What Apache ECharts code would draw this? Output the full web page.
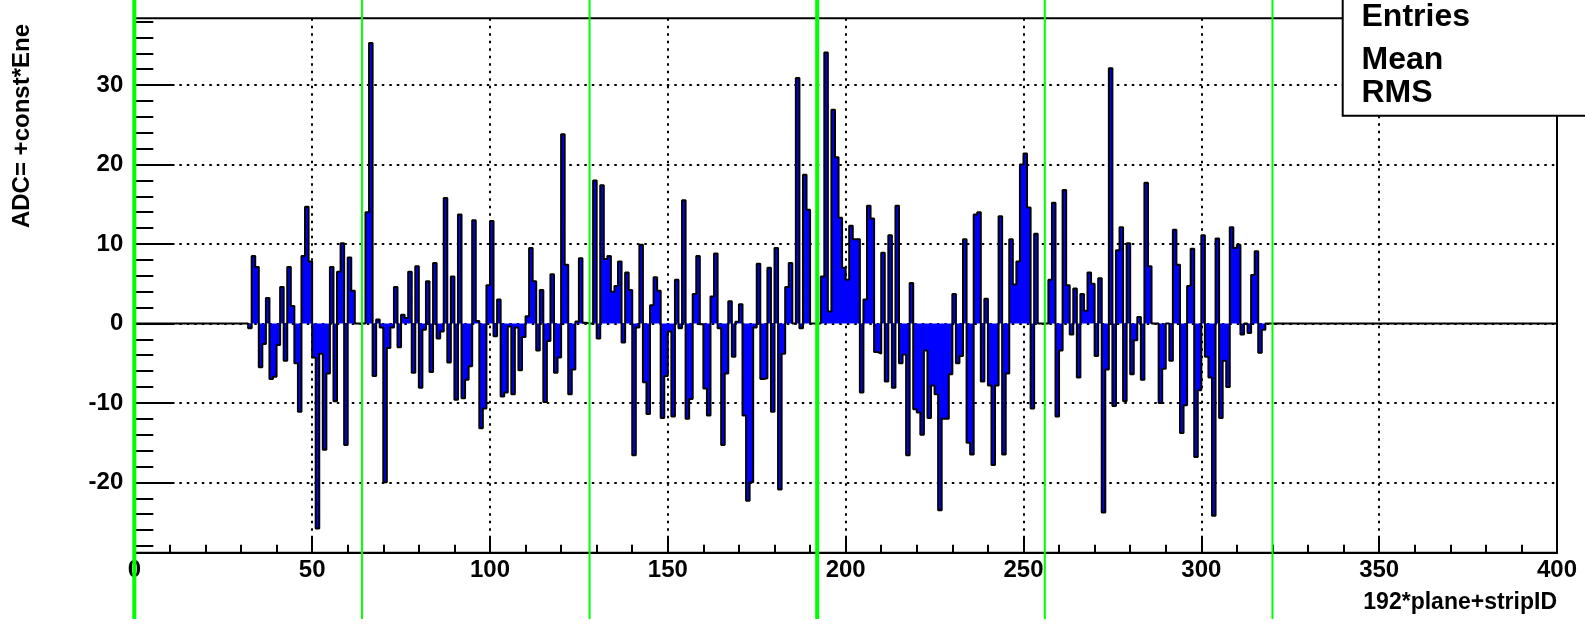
<!DOCTYPE html>
<html><head><meta charset="utf-8">
<script src="https://cdn.jsdelivr.net/npm/echarts@6/dist/echarts.min.js"></script>
<style>html,body{margin:0;padding:0;background:#fff}#c{width:1585px;height:629px}</style>
</head><body><div id="c"></div>
<script>
// ---- data ----
const binCount = 400;            // x axis: 0 .. 400, one bin per unit
const firstFilledBin = 32;       // bins before this are empty (0)
// bins 32..63
const chip0 = [-0.6, 8.5, 7.1, -5.5, -2.6, 3.2, -7.0, -6.7, -2.7, 4.6, -4.7, 7.1, 2.2, -5.0, -11.1, 8.5,
  14.7, 7.8, -4.3, -25.8, -3.8, -15.9, -6.3, 7.1, -9.8, 6.5, 10.1, -15.3, 8.3, 4.1, 0, 0];
// bins 64..127
const chip1 = [0, 14.0, 35.3, -6.6, 0.5, -0.5, -20.0, -3.1, -0.5, 4.6, -3.0, 1.1, 0.7, 6.5, -6.2, 7.2,
  -8.1, -0.8, 5.3, -6.1, 7.6, -1.9, -1.0, 15.8, -4.9, 5.9, -9.6, 13.7, -9.4, -7.1, -5.4, 13.0,
  0.3, -13.2, -10.7, 4.8, 12.9, -1.6, 3.0, -9.2, -8.7, -0.4, -8.9, -0.5, -5.9, -1.7, 0.9, 9.5,
  5.3, -3.4, 4.2, -9.9, -2.2, 6.2, -6.2, -4.3, 23.8, 7.4, -8.9, -5.8, 0.25, 8.2, 0.1, 0];
// bins 128..191
const chip2 = [0, 18.0, -1.9, 17.4, 8.1, 8.5, 4.0, 4.7, 7.8, -2.4, 6.4, 4.2, -16.6, -0.5, 9.9, -7.4,
  -11.4, 2.3, 5.8, 4.1, -11.9, -6.6, -1.0, -11.7, 5.5, -0.6, 15.5, -12.0, -9.5, 3.7, 8.5, -0.1,
  -8.2, -11.6, 3.4, 8.8, -0.6, -15.3, -6.3, 2.8, -4.2, 0.2, 2.4, -11.6, -22.3, -20.0, -0.5, 7.5,
  -7.0, -6.9, 7.0, -11.1, 9.5, -20.9, -3.8, 4.6, 7.6, 0, 30.9, -0.6, 18.7, 14.3, 0, 0];
// bins 192..255
const chip3 = [0, 5.9, 34.1, 1.5, 26.9, 20.9, 13.3, 7.0, 5.5, 12.3, 10.6, 10.6, -8.7, 3.0, 14.8, 13.2,
  -3.6, -3.8, 8.9, -7.3, 11.1, -8.1, 14.8, -5.0, -3.9, -16.6, 5.1, -10.8, -11.2, -14.0, -3.4, -11.9,
  -7.8, -8.9, -23.5, -12.0, -12.0, -6.4, 3.7, -5.0, -4.1, 10.6, -15.0, -16.5, 13.7, 14.0, -7.3, 3.1,
  -7.8, -17.8, -7.8, 13.5, -16.5, -6.3, 10.6, 4.9, 7.8, 20.0, 21.4, 14.6, -10.7, 11.3, 0, 0];
// bins 256..319
const chip4 = [0, 5.5, 15.2, -11.7, -3.4, 16.8, 4.8, -1.4, 4.4, -6.8, 3.7, 1.6, 6.4, 5.0, -4.1, 5.7,
  -23.8, -5.8, 32.1, -10.4, 9.2, 12.1, -9.8, 10.1, -6.4, -2.1, 0.8, -7.1, 17.7, 7.2, 0, 0,
  -10.0, -5.7, 0, -4.7, 11.8, 7.4, -13.8, -10.3, 4.7, 9.4, -16.8, -8.4, 11.1, -4.2, -6.8, -24.2,
  10.7, -11.9, -4.7, -8.0, 12.1, 9.5, 9.9, -1.4, 0, -1.2, 6.1, 9.1, -3.7, -0.8, 0, 0];
const chipBoundaries = [0, 64, 128, 192, 256, 320];
const thickBoundaries = [0, 192];
const yMajorTicks = [-20, -10, 0, 10, 20, 30];
const yMinorTicks = [-28, -26, -24, -22, -20, -18, -16, -14, -12, -10, -8, -6, -4, -2, 0, 2, 4, 6, 8, 10,
  12, 14, 16, 18, 20, 22, 24, 26, 28, 30, 32, 34, 36, 38];
const yRange = [-28.85, 38.4];
const statLabels = ['Entries', 'Mean', 'RMS'];
const xTitle = '192*plane+stripID';
const yTitle = 'ADC= +const*Ene';

// ---- build histogram contents ----
const contents = new Array(binCount).fill(0);
[chip0, chip1, chip2, chip3, chip4].reduce((start, arr) => {
  arr.forEach((v, i) => { contents[start + i] = v; });
  return start + arr.length;
}, firstFilledBin);
const stepData = contents.map((v, i) => [i, v]);
stepData.push([binCount, contents[binCount - 1]]);

const FONT = 'Liberation Sans, Arial, Helvetica, sans-serif';
const G = { left: 134.3, right: 28, top: 18.3, bottom: 76.3 };
const chart = echarts.init(document.getElementById('c'), null, { renderer: 'canvas' });
const dotted = { color: '#000', width: 2, type: [2.5, 5] };
const labelStyle = { color: '#000', fontFamily: FONT, fontWeight: 'bold', fontSize: 24 };

chart.setOption({
  animation: false,
  backgroundColor: '#fff',
  grid: { left: G.left, right: G.right, top: G.top, bottom: G.bottom, show: true,
          borderColor: '#000', borderWidth: 2, backgroundColor: 'transparent',
          containLabel: false, outerBoundsMode: 'none' },
  xAxis: {
    type: 'value', min: 0, max: binCount, interval: 50,
    axisLine: { show: true, onZero: false, lineStyle: { color: '#000', width: 2 } },
    axisTick: { show: true, inside: true, length: 16, lineStyle: { color: '#000', width: 2 } },
    minorTick: { show: true, splitNumber: 5, length: 8, lineStyle: { color: '#000', width: 2 } },
    axisLabel: Object.assign({ margin: 6 }, labelStyle),
    splitLine: { show: true, lineStyle: dotted }
  },
  yAxis: [{
    type: 'value', min: yRange[0], max: yRange[1], position: 'left',
    axisLine: { show: true, onZero: false, lineStyle: { color: '#000', width: 2 } },
    axisTick: { show: true, inside: true, length: 40, customValues: yMajorTicks, lineStyle: { color: '#000', width: 2 } },
    axisLabel: Object.assign({ margin: 11, customValues: yMajorTicks, showMinLabel: true, showMaxLabel: true }, labelStyle),
    splitLine: { show: true, lineStyle: dotted }
  }, {
    type: 'value', min: yRange[0], max: yRange[1], position: 'left', offset: 0,
    axisLine: { show: false },
    axisTick: { show: true, inside: true, length: 19, customValues: yMinorTicks, lineStyle: { color: '#000', width: 2 } },
    axisLabel: { show: false },
    splitLine: { show: false }
  }],
  series: [{
    type: 'line', yAxisIndex: 0, data: stepData, step: 'end', symbol: 'none',
    lineStyle: { color: '#000', width: 2 },
    areaStyle: { color: '#0000ff', opacity: 1, origin: 0 },
    emphasis: { disabled: true }, silent: true, z: 3
  }]
});

// ---- overlay elements: chip boundary lines, titles, stat box ----
const gridRect = { x0: G.left, x1: 1585 - G.right, y1: 629 - G.bottom };
const graphics = chipBoundaries.map(b => {
  const px = chart.convertToPixel({ gridIndex: 0 }, [b, 0])[0];
  return { type: 'line', z: 50, silent: true,
    shape: { x1: px, y1: 0, x2: px, y2: 619 },
    style: { stroke: '#00ff00', lineWidth: thickBoundaries.includes(b) ? 4 : 2 } };
});
graphics.push({ type: 'text', z: 60, x: gridRect.x1, y: 603,
  style: { text: xTitle, font: 'bold 23px ' + FONT, fill: '#000', align: 'right', verticalAlign: 'middle' } });
graphics.push({ type: 'text', z: 60, x: 22, y: 24, rotation: Math.PI / 2,
  style: { text: yTitle, font: 'bold 24px ' + FONT, fill: '#000', align: 'right', verticalAlign: 'middle' } });
graphics.push({ type: 'rect', z: 70, shape: { x: 1342.7, y: -3, width: 260, height: 118.7 },
  style: { fill: '#fff', stroke: '#000', lineWidth: 2 } });
const statY = [17, 60, 93];
statLabels.forEach((t, i) => graphics.push({ type: 'text', z: 71, x: 1361.5, y: statY[i],
  style: { text: t, font: 'bold 32px ' + FONT, fill: '#000', align: 'left', verticalAlign: 'middle' } }));
chart.setOption({ graphic: graphics });
</script></body></html>
